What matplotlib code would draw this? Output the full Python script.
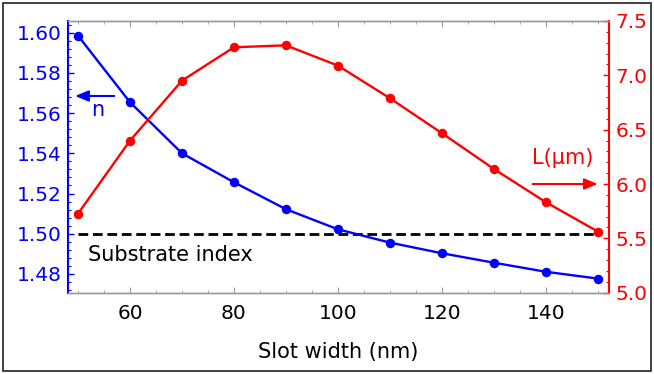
import matplotlib
matplotlib.use("Agg")
import matplotlib.pyplot as plt
from matplotlib.ticker import MultipleLocator, FormatStrFormatter
from matplotlib.patches import Rectangle

plt.rcParams['font.family'] = ['DejaVu Sans']

slot_width = [50, 60, 70, 80, 90, 100, 110, 120, 130, 140, 150]
n_eff = [1.5985, 1.5654, 1.5400, 1.5256, 1.5122, 1.5022, 1.4956, 1.4903, 1.4856, 1.4811, 1.4777]
L_um = [5.727, 6.399, 6.951, 7.258, 7.276, 7.089, 6.789, 6.467, 6.138, 5.832, 5.562]
substrate_index = 1.50

BLUE = '#0000ff'
RED = '#ff0000'
GRAY = '#999999'

fig = plt.figure(figsize=(6.54, 3.74), dpi=100)
fig.patches.append(Rectangle((0.005, 0.008), 0.99, 0.984, transform=fig.transFigure,
                             fill=False, edgecolor='#222222', linewidth=1.2))
ax1 = fig.add_axes([0.104, 0.2174, 0.827, 0.7265])
ax2 = ax1.twinx()

ax1.plot(slot_width, n_eff, color=BLUE, lw=1.7, marker='o', ms=5.8, zorder=3)
ax1.plot([slot_width[0], slot_width[-1]], [substrate_index, substrate_index],
         color='black', lw=2.0, ls=(0, (3.5, 1.7)), zorder=2)
ax2.plot(slot_width, L_um, color=RED, lw=1.7, marker='o', ms=5.8, zorder=3)

ax1.set_xlim(48.08, 152.1)
ax1.set_ylim(1.4707, 1.6058)
ax2.set_ylim(5.0, 7.5)

ax1.xaxis.set_major_locator(MultipleLocator(20))
ax1.xaxis.set_minor_locator(MultipleLocator(5))
ax1.yaxis.set_major_locator(MultipleLocator(0.02))
ax1.yaxis.set_minor_locator(MultipleLocator(0.004))
ax1.yaxis.set_major_formatter(FormatStrFormatter('%.2f'))
ax2.yaxis.set_major_locator(MultipleLocator(0.5))
ax2.yaxis.set_minor_locator(MultipleLocator(0.1))
ax2.yaxis.set_major_formatter(FormatStrFormatter('%.1f'))

# spines
for ax in (ax1, ax2):
    ax.spines['top'].set_color(GRAY)
    ax.spines['bottom'].set_color(GRAY)
    ax.spines['top'].set_linewidth(1.0)
    ax.spines['bottom'].set_linewidth(1.0)
ax1.spines['left'].set_color(BLUE)
ax1.spines['left'].set_linewidth(1.5)
ax1.spines['right'].set_visible(False)
ax2.spines['left'].set_visible(False)
ax2.spines['right'].set_color(RED)
ax2.spines['right'].set_linewidth(1.5)

ax1.tick_params(axis='x', which='both', direction='in', top=True, bottom=True,
                color=GRAY, labelsize=14.5, pad=8.5)
ax1.tick_params(axis='x', which='major', length=4, width=0.8)
ax1.tick_params(axis='x', which='minor', length=2.5, width=0.6)
ax1.tick_params(axis='y', which='both', direction='in', left=True, right=False,
                color=BLUE, labelcolor=BLUE, labelsize=14.5, pad=4.5)
ax1.tick_params(axis='y', which='major', length=4.5, width=1.0)
ax1.tick_params(axis='y', which='minor', length=2.5, width=0.8)
ax2.tick_params(axis='y', which='both', direction='in', right=True, left=False,
                color=RED, labelcolor=RED, labelsize=14.5, pad=5)
ax2.tick_params(axis='y', which='major', length=4.5, width=1.0)
ax2.tick_params(axis='y', which='minor', length=2.5, width=0.8)
ax2.tick_params(axis='x', which='both', top=False, bottom=False)

ax1.set_xlabel('Slot width (nm)', fontsize=15, labelpad=13)

# annotations
ax1.annotate('', xy=(48.9, 1.5685), xytext=(57.5, 1.5685),
             arrowprops=dict(arrowstyle='-|>,head_length=0.8,head_width=0.33',
                             color=BLUE, lw=1.5))
ax1.text(53.7, 1.5615, 'n', color=BLUE, fontsize=15, ha='center', va='center')
ax2.annotate('', xy=(150.5, 6.0), xytext=(136.9, 6.0),
             arrowprops=dict(arrowstyle='-|>,head_length=0.8,head_width=0.33',
                             color=RED, lw=1.5))
ax2.text(143.3, 6.24, 'L(μm)', color=RED, fontsize=15, ha='center', va='center')
ax1.text(51.9, 1.4893, 'Substrate index', color='black', fontsize=15, ha='left', va='center')

fig.savefig('out.png', dpi=100)
